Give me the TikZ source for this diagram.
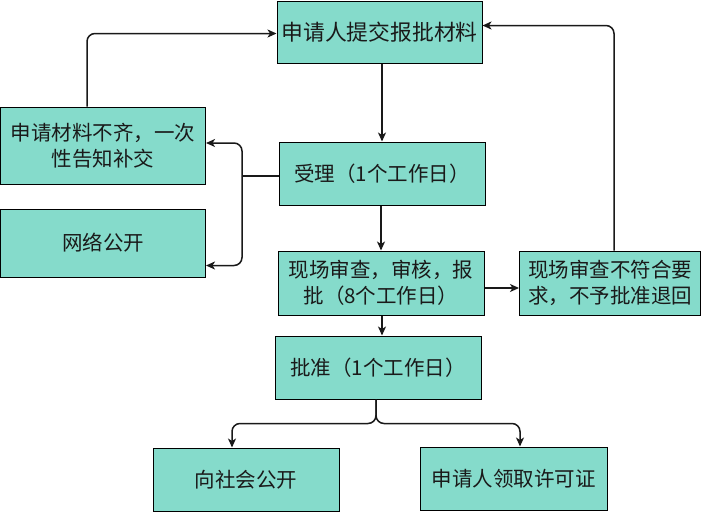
\documentclass[tikz,border=0pt]{standalone}
\usepackage{fontspec}
\setmainfont{Noto Sans CJK SC}
\usetikzlibrary{arrows.meta}
\definecolor{boxfill}{HTML}{85DBCB}
\definecolor{txt}{HTML}{1A1A1A}
\begin{document}
\begin{tikzpicture}[x=1pt,y=-1pt,
  box/.style={draw=black, line width=1pt, fill=boxfill, inner sep=0pt, align=center,
    text=txt, font=\fontsize{20.5}{26}\selectfont},
  conn/.style={draw=black!90, line width=1.5pt, rounded corners=8pt,
    -{Stealth[length=9pt,width=8pt,inset=2.5pt]}},
  plain/.style={draw=black!90, line width=1.5pt, rounded corners=8pt}]
\useasboundingbox (0,0) rectangle (702,512);
\node[box, minimum width=205pt, minimum height=62pt, font=\fontsize{21.8}{26}\selectfont] (A) at (379.5,32) {申请人提交报批材料};
\node[box, minimum width=205pt, minimum height=77pt] (B) at (103,145.5) {申请材料不齐，一次\\性告知补交};
\node[box, minimum width=206pt, minimum height=63pt] (C) at (382,173.5) {受理（1个工作日）};
\node[box, minimum width=205pt, minimum height=68pt] (D) at (103,243) {网络公开};
\node[box, minimum width=206pt, minimum height=64pt] (E) at (381,283) {现场审查，审核，报\\批（8个工作日）};
\node[box, minimum width=181pt, minimum height=64pt] (F) at (610,283) {现场审查不符合要\\求，不予批准退回};
\node[box, minimum width=206pt, minimum height=63pt] (G) at (378,367.5) {批准（1个工作日）};
\node[box, minimum width=186pt, minimum height=63pt] (H) at (246,479.5) {向社会公开};
\node[box, minimum width=187pt, minimum height=63pt] (I) at (513.5,478.5) {申请人领取许可证};
% connectors
\coordinate (j) at ([yshift=-2.5pt]C.west -| 242,0);
\draw[conn] (C.north |- A.south) -- (C.north);
\draw[conn] (E.north |- C.south) -- (E.north);
\draw[plain] ([yshift=-2.5pt]C.west) -- (j);
\draw[conn] (j) |- ([yshift=2.5pt]B.east);
\draw[conn] (j) |- ([yshift=12pt]D.south east);
\draw[conn] ([xshift=-16pt]B.north) |- ([yshift=-1.5pt]A.west);
\draw[conn] ([xshift=4pt]F.north) |- ([yshift=6.5pt]A.east);
\draw[conn] ([yshift=-5pt]E.east) -- ([yshift=-5pt]F.west);
\draw[conn] ([xshift=1pt]E.south) -- ([xshift=1pt]E.south |- G.north);
\coordinate (g) at ([xshift=-2pt]G.south);
\draw[conn] (g) -- ([yshift=-24pt]g) -| ([xshift=-14pt]H.north);
\draw[conn] (g) -- ([yshift=-24pt]g) -| ([xshift=6.5pt]I.north);
\end{tikzpicture}
\end{document}
